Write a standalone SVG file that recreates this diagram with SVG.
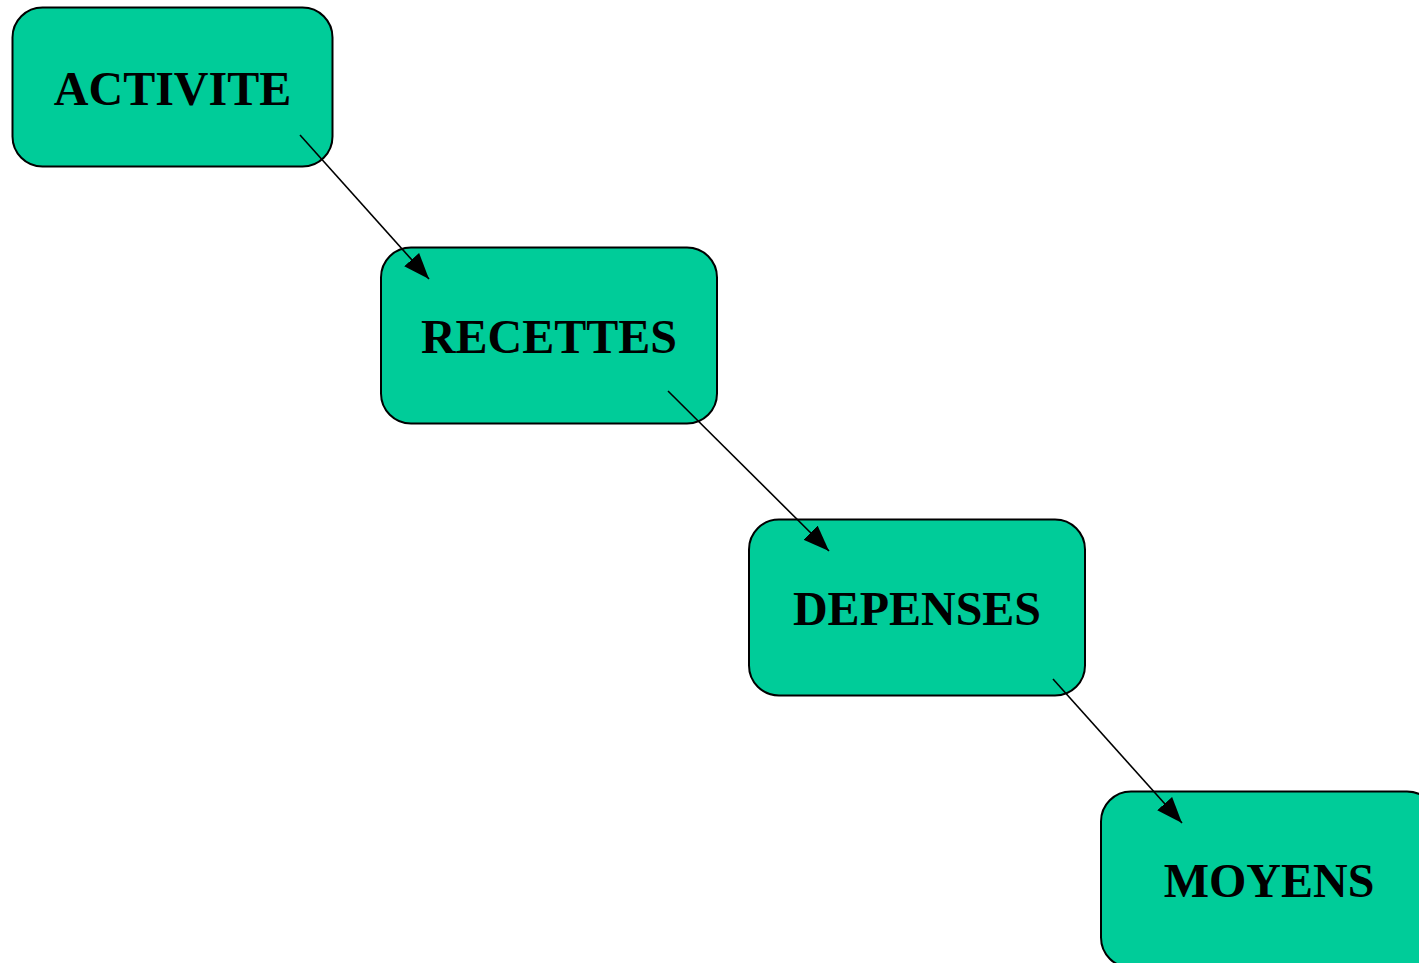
<svg xmlns="http://www.w3.org/2000/svg" width="1419" height="963" viewBox="0 0 1419 963">
<style>
.box{fill:#00CC99;stroke:#000;stroke-width:2}
.lbl{font-family:"Liberation Serif","Times New Roman",serif;font-weight:bold;font-size:48px;fill:#000;text-anchor:middle}
.conn{stroke:#000;stroke-width:1.6;fill:none;marker-end:url(#ah)}
</style>
<defs>
<marker id="ah" markerUnits="userSpaceOnUse" markerWidth="30" markerHeight="24" refX="26" refY="10" orient="auto">
<path d="M0,0 L26,10 L0,20 Z" fill="#000"/>
</marker>
</defs>
<rect width="1419" height="963" fill="#fff"/>
<g id="activite"><rect class="box" x="12.5" y="7.5" width="320" height="159" rx="30"/><text class="lbl" x="172.5" y="105">ACTIVITE</text></g>
<g id="recettes"><rect class="box" x="381" y="247.5" width="336" height="176" rx="30"/><text class="lbl" x="549" y="353">RECETTES</text></g>
<g id="depenses"><rect class="box" x="749" y="519.5" width="336" height="176" rx="30"/><text class="lbl" x="917" y="625">DEPENSES</text></g>
<g id="moyens"><rect class="box" x="1101" y="791.5" width="336" height="176" rx="30"/><text class="lbl" x="1269" y="897">MOYENS</text></g>
<g id="connectors">
<line class="conn" x1="300" y1="135" x2="429" y2="279"/>
<line class="conn" x1="668" y1="391" x2="829" y2="551"/>
<line class="conn" x1="1053" y1="679" x2="1182" y2="823"/>
</g>
</svg>
